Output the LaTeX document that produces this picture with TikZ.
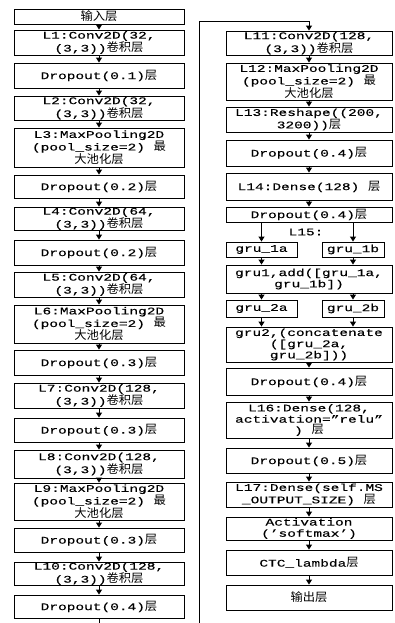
\documentclass[tikz,border=0pt]{standalone}
\usepackage{fontspec}
\setmainfont[FakeStretch=1.42,FakeBold=0.25]{Liberation Mono}
\newfontfamily\cjk[FakeStretch=1.05,Scale=1.15]{Noto Sans CJK SC}
\newcommand\zh[1]{{\cjk #1}}
\usetikzlibrary{arrows.meta}
\begin{document}
\begin{tikzpicture}[x=1pt,y=-1pt,
  box/.style={draw, line width=0.9pt, inner sep=0pt, align=center, font=\fontsize{10.2}{11.2}\selectfont},
  lbox/.style={box, minimum width=170pt},
  rbox/.style={box, minimum width=166pt},
  arr/.style={-{Triangle[width=6pt,length=5pt]}, line width=1pt},
  plain/.style={line width=1pt}]
\useasboundingbox (0,0) rectangle (394,623);
% left column
\node[lbox, minimum height=15pt] (l1) at (99,16.5) {\zh{输入层}};
\node[lbox, minimum height=25pt] (l2) at (99,42.5) {L1:Conv2D(32,\\(3,3))\zh{卷积层}};
\node[lbox, minimum height=25pt] (l3) at (99,75.5) {Dropout(0.1)\zh{层}};
\node[lbox, minimum height=24pt] (l4) at (99,108) {L2:Conv2D(32,\\(3,3))\zh{卷积层}};
\node[lbox, minimum height=39pt] (l5) at (99,147.5) {L3:MaxPooling2D\\(pool\_size=2) \zh{最}\\\zh{大池化层}};
\node[lbox, minimum height=23pt] (l6) at (99,186.5) {Dropout(0.2)\zh{层}};
\node[lbox, minimum height=23pt] (l7) at (99,218.5) {L4:Conv2D(64,\\(3,3))\zh{卷积层}};
\node[lbox, minimum height=25pt] (l8) at (99,252.5) {Dropout(0.2)\zh{层}};
\node[lbox, minimum height=25pt] (l9) at (99,284.5) {L5:Conv2D(64,\\(3,3))\zh{卷积层}};
\node[lbox, minimum height=38pt] (l10) at (99,324) {L6:MaxPooling2D\\(pool\_size=2) \zh{最}\\\zh{大池化层}};
\node[lbox, minimum height=25pt] (l11) at (99,362.5) {Dropout(0.3)\zh{层}};
\node[lbox, minimum height=25pt] (l12) at (99,395.5) {L7:Conv2D(128,\\(3,3))\zh{卷积层}};
\node[lbox, minimum height=24pt] (l13) at (99,430) {Dropout(0.3)\zh{层}};
\node[lbox, minimum height=28pt] (l14) at (99,464) {L8:Conv2D(128,\\(3,3))\zh{卷积层}};
\node[lbox, minimum height=37pt] (l15) at (99,501.5) {L9:MaxPooling2D\\(pool\_size=2) \zh{最}\\\zh{大池化层}};
\node[lbox, minimum height=24pt] (l16) at (99,540) {Dropout(0.3)\zh{层}};
\node[lbox, minimum height=23pt] (l17) at (99,573.5) {L10:Conv2D(128,\\(3,3))\zh{卷积层}};
\node[lbox, minimum height=23pt] (l18) at (99,606.5) {Dropout(0.4)\zh{层}};
\foreach \a/\b in {l1/l2,l2/l3,l3/l4,l4/l5,l5/l6,l6/l7,l7/l8,l8/l9,l9/l10,l10/l11,l11/l12,l12/l13,l13/l14,l14/l15,l15/l16,l16/l17,l17/l18}
  \draw[arr] (\a) -- (\b);
\coordinate (lb) at (99,623);
\draw[plain] (l18) -- (lb);
% right column
\node[rbox, minimum height=24pt] (r1) at (309,43) {L11:Conv2D(128,\\(3,3))\zh{卷积层}};
\node[rbox, minimum height=37pt] (r2) at (309,81.5) {L12:MaxPooling2D\\(pool\_size=2) \zh{最}\\\zh{大池化层}};
\node[rbox, minimum height=25pt] (r3) at (309,119.5) {L13:Reshape((200,\\3200))\zh{层}};
\node[rbox, minimum height=26pt] (r4) at (309,153) {Dropout(0.4)\zh{层}};
\node[rbox, minimum height=27pt] (r5) at (309,186.5) {L14:Dense(128) \zh{层}};
\node[rbox, minimum height=15pt] (r6) at (309,214.5) {Dropout(0.4)\zh{层}};
\node[font=\fontsize{10.2}{11.2}\selectfont, inner sep=0pt] (l15lab) at (306,232) {L15:};
\node[box, minimum width=71pt, minimum height=15pt] (g1a) at (261.5,249.5) {gru\_1a};
\node[box, minimum width=62pt, minimum height=15pt] (g1b) at (353,249.5) {gru\_1b};
\node[rbox, minimum height=28pt] (r7) at (309,279) {gru1,add([gru\_1a,\\gru\_1b])};
\node[box, minimum width=71pt, minimum height=17pt] (g2a) at (261.5,308.5) {gru\_2a};
\node[box, minimum width=62pt, minimum height=17pt] (g2b) at (353,308.5) {gru\_2b};
\node[rbox, minimum height=35pt] (r8) at (309,344.5) {gru2,(concatenate\\([gru\_2a,\\gru\_2b]))};
\node[rbox, minimum height=27pt] (r9) at (309,381.5) {Dropout(0.4)\zh{层}};
\node[rbox, minimum height=36pt] (r10) at (309,420) {L16:Dense(128,\\activation=”relu”\\) \zh{层}};
\node[rbox, minimum height=25pt] (r11) at (309,460.5) {Dropout(0.5)\zh{层}};
\node[rbox, minimum height=25pt] (r12) at (309,494.5) {L17:Dense(self.MS\\\_OUTPUT\_SIZE) \zh{层}};
\node[rbox, minimum height=23pt] (r13) at (309,528.5) {Activation\\('softmax')};
\node[rbox, minimum height=25pt] (r14) at (309,562.5) {CTC\_lambda\zh{层}};
\node[rbox, minimum height=25pt] (r15) at (309,597.5) {\zh{输出层}};
\foreach \a/\b in {r1/r2,r2/r3,r3/r4,r4/r5,r5/r6,r8/r9,r9/r10,r10/r11,r11/r12,r12/r13,r13/r14,r14/r15}
  \draw[arr] (\a) -- (\b);
\foreach \g in {g1a,g1b}
  \draw[arr] (r6.south -| \g.north) -- (\g.north);
\foreach \g in {g1a,g1b}
  \draw[arr] (\g.south) -- (\g.south |- r7.north);
\foreach \g in {g2a,g2b}
  \draw[arr] (r7.south -| \g.north) -- (\g.north);
\foreach \g in {g2a,g2b}
  \draw[arr] (\g.south) -- (\g.south |- r8.north);
\coordinate (rb) at (199,623);
\coordinate (rt) at (199,22);
\draw[arr] (rb) -- (rt) -| (r1.north);
\end{tikzpicture}
\end{document}
